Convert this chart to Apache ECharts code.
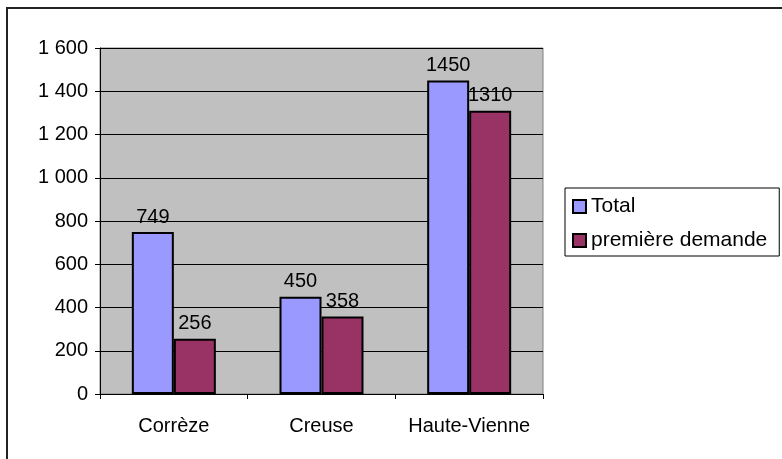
<!DOCTYPE html>
<html>
<head>
<meta charset="utf-8">
<script src="https://cdn.jsdelivr.net/npm/echarts@6/dist/echarts.min.js"></script>
<style>
  html, body { margin: 0; padding: 0; background: #fff; }
  #main { width: 782px; height: 459px; }
</style>
</head>
<body>
<div id="main"></div>
<script>
var categories = ['Corrèze', 'Creuse', 'Haute-Vienne'];
var totalValues = [749, 450, 1450];
var premiereValues = [256, 358, 1310];
var seriesNames = ['Total', 'première demande'];

var myChart = echarts.init(document.getElementById('main'));
var font = 'Liberation Sans, Arial, sans-serif';

// séparateur de milliers avec espace
function fmt(v) {
    return String(v).replace(/\B(?=(\d{3})+(?!\d))/g, ' ');
}

var option = {
    backgroundColor: '#fff',
    animation: false,
    textStyle: { fontFamily: font },
    graphic: [{
        type: 'rect',
        shape: { x: 7, y: 8, width: 800, height: 500 },
        style: { fill: 'none', stroke: '#222', lineWidth: 2 },
        silent: true
    }],
    grid: {
        left: 100, top: 48, right: 239, bottom: 65,
        show: true,
        backgroundColor: '#C0C0C0',
        borderColor: '#808080',
        borderWidth: 1
    },
    legend: {
        orient: 'vertical',
        left: 565, top: 188,
        data: seriesNames,
        backgroundColor: '#fff',
        borderColor: '#000',
        borderWidth: 1,
        borderRadius: 0,
        padding: [8, 12, 5, 7],
        itemWidth: 13, itemHeight: 13,
        itemGap: 13,
        icon: 'rect',
        itemStyle: { borderColor: '#000', borderWidth: 2 },
        textStyle: { fontSize: 21, color: '#000', fontFamily: font }
    },
    xAxis: {
        type: 'category',
        data: categories,
        axisLine: { lineStyle: { color: '#000', width: 1 } },
        axisTick: { show: true, length: 5, lineStyle: { color: '#000' } },
        axisLabel: { interval: 0, fontSize: 20, color: '#000', margin: 22, fontFamily: font }
    },
    yAxis: {
        type: 'value',
        min: 0, max: 1600, interval: 200,
        axisLine: { show: true, lineStyle: { color: '#000', width: 1 } },
        axisTick: { show: true, length: 5, lineStyle: { color: '#000' } },
        axisLabel: { fontSize: 20, color: '#000', margin: 12, fontFamily: font, formatter: fmt },
        splitLine: { lineStyle: { color: '#000', width: 1 } }
    },
    series: [{
        name: seriesNames[0],
        type: 'bar',
        data: totalValues,
        barWidth: 42,
        barGap: '0%',
        itemStyle: { color: '#9999FF', borderColor: '#000', borderWidth: 2 },
        label: { show: true, position: 'top', distance: 5, fontSize: 20, color: '#000', fontFamily: font }
    }, {
        name: seriesNames[1],
        type: 'bar',
        data: premiereValues,
        barWidth: 42,
        barGap: '0%',
        itemStyle: { color: '#993366', borderColor: '#000', borderWidth: 2 },
        label: { show: true, position: 'top', distance: 5, fontSize: 20, color: '#000', fontFamily: font }
    }]
};

myChart.setOption(option);
</script>
</body>
</html>
